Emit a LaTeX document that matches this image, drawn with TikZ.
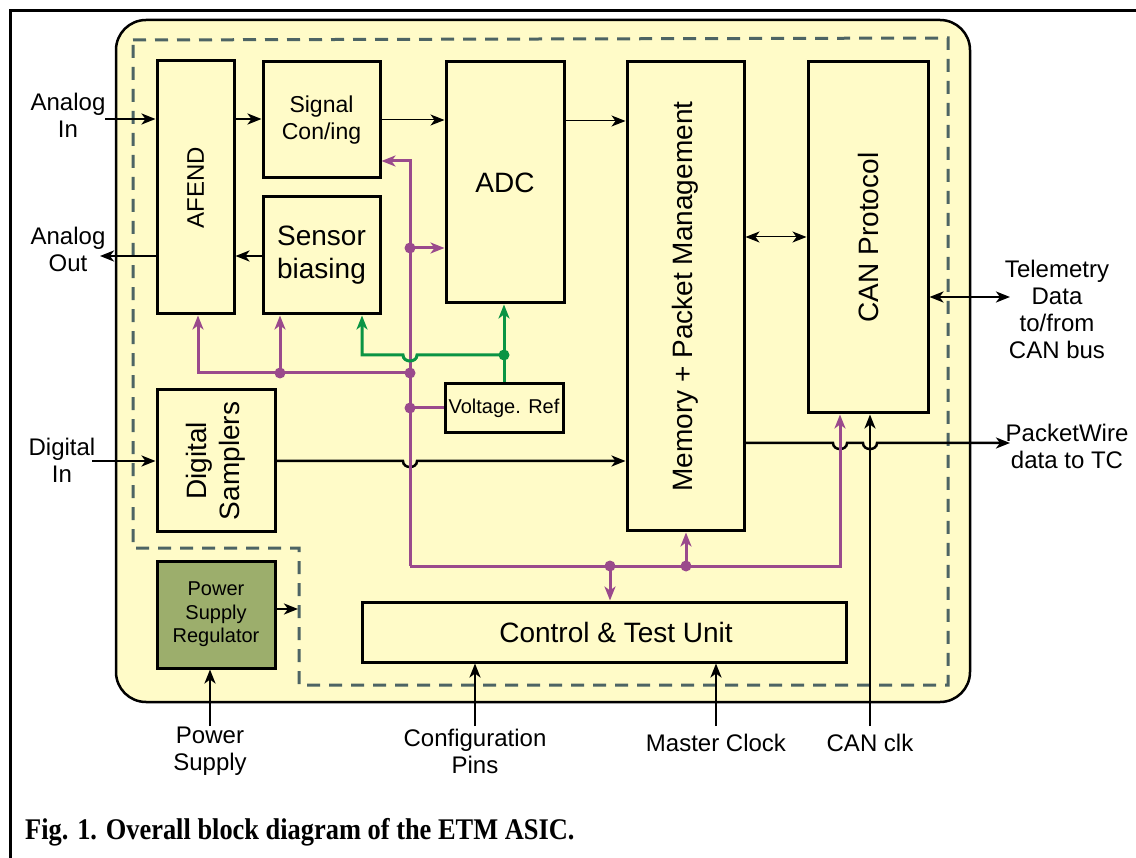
\documentclass[tikz,border=0pt]{standalone}
\usepackage{fontspec}
\usepackage{graphicx}
\setmainfont{Liberation Sans}
\newfontfamily\capfont{Liberation Serif}
\usetikzlibrary{arrows.meta}
\definecolor{yel}{RGB}{255,251,200}
\definecolor{dsh}{RGB}{77,100,100}
\definecolor{pur}{RGB}{154,74,140}
\definecolor{grn}{RGB}{10,148,68}
\definecolor{olv}{RGB}{156,174,108}
\newcommand{\fsz}[2]{\fontsize{#1}{#2}\selectfont}
\tikzset{
  blk/.style={draw, line width=3pt, fill=yel, inner sep=0pt, align=center},
  tip/.style={-{Stealth[length=14pt,width=11pt,inset=4pt]}},
  arr/.style={line width=2.5pt, tip},
  darr/.style={line width=2.5pt, {Stealth[length=14pt,width=11pt,inset=4pt]}-{Stealth[length=14pt,width=11pt,inset=4pt]}},
  tarr/.style={line width=1pt, tip},
  tdarr/.style={line width=1pt, {Stealth[length=14pt,width=11pt,inset=4pt]}-{Stealth[length=14pt,width=11pt,inset=4pt]}},
  pline/.style={draw=pur, line width=3pt},
  parr/.style={pline, tip, pur},
  gline/.style={draw=grn, line width=3pt},
  garr/.style={gline, tip, grn},
  pdot/.style={circle, fill=pur, inner sep=0pt, minimum size=11pt},
  gdot/.style={circle, fill=grn, inner sep=0pt, minimum size=11pt},
  lbl/.style={align=center, inner sep=0pt, font=\fsz{24}{27}},
}
\begin{document}
\begin{tikzpicture}[x=1pt,y=-1pt]
\useasboundingbox (0,0) rectangle (1136,858);
\clip (0,0) rectangle (1136,858);
\fill[white] (0,0) rectangle (1136,858);
% outer frame
\draw[line width=3pt] (10,11) rectangle (1160,880);
% chip body
\draw[fill=yel, line width=2.5pt, rounded corners=30pt] (116,20) rectangle (970,702);
% dashed digital/analog domain
\draw[dsh, line width=3pt, dash pattern=on 13pt off 9pt] (133,40) -- (948,38) -- (948,685) -- (299,685) -- (299,548) -- (133,548) -- cycle;

% blocks
\node[blk, font=\fsz{24}{27}, minimum width=77pt, minimum height=253pt] (afend) at (195.5,187.5) {\rotatebox{90}{AFEND}};
\node[blk, font=\fsz{23}{27}, minimum width=117pt, minimum height=116pt] (sig) at (321.5,120) {Signal\\Con/ing};
\node[blk, font=\fsz{28}{33}, minimum width=117pt, minimum height=117pt] (sens) at (321.5,255.5) {Sensor\\biasing};
\node[blk, font=\fsz{28}{33}, minimum width=118pt, minimum height=241pt] (adc) at (505,182.5) {ADC};
\node[blk, font=\fsz{28}{33}, minimum width=117pt, minimum height=469pt] (mem) at (685.5,296.5) {\rotatebox{90}{Memory + Packet Management}};
\node[blk, font=\fsz{28}{33}, minimum width=120pt, minimum height=351pt] (can) at (868,237.5) {\rotatebox{90}{CAN Protocol}};
\node[blk, font=\fsz{20}{24}, minimum width=118pt, minimum height=49pt] (vref) at (504,408.5) {Voltage. Ref};
\node[blk, font=\fsz{28}{33}, minimum width=118pt, minimum height=142pt] (dig) at (216,461) {\rotatebox{90}{\begin{tabular}{@{}c@{}}Digital\\Samplers\end{tabular}}};
\node[blk, font=\fsz{20}{23.5}, fill=olv, minimum width=118pt, minimum height=107pt] (psr) at (216,614.5) {Power\\Supply\\Regulator};
\node[blk, font=\fsz{28}{33}, minimum width=484pt, minimum height=60pt] (ctu) at (604,632) {\hspace*{24pt}Control \& Test Unit};

% external labels
\node[lbl] (ainl) at (68,115) {Analog\\In};
\node[lbl] (aoutl) at (68,249) {Analog\\Out};
\node[lbl] (dinl) at (62,460) {Digital\\In};
\node[lbl] (teml) at (1057,309) {Telemetry\\Data\\to/from\\CAN bus};
\node[lbl] (pwl) at (1067,446) {PacketWire\\data to TC};
\node[lbl] (psl) at (210,751) {Power\\Supply};
\node[lbl] (cfgl) at (475,751) {Configuration\\Pins};
\node[lbl] (mcl) at (716,743) {Master Clock};
\node[lbl] (canl) at (870,743) {CAN clk};
\node[anchor=base west, inner sep=0pt, font=\capfont\bfseries\fsz{30}{34}] (cap) at (25,839) {\scalebox{0.88}[1]{Fig. 1. Overall block diagram of the ETM ASIC.}};

% free ends
\coordinate (ain) at (105,119);
\coordinate (aout) at (100,256);
\coordinate (din) at (92,461);
\coordinate (tem) at (1010,297);
\coordinate (pw) at (1010,443);
\coordinate (ps) at (210,726);
\coordinate (cfg) at (475,726);
\coordinate (mc) at (716,726);
\coordinate (cc) at (870,726);
\coordinate (dd) at (298,609);

% black connectors
\draw[arr] (ain) -- (afend.west |- ain);
\draw[arr] (afend.east |- 0,119) -- (sig.west |- 0,119);
\draw[arr] (afend.west |- aout) -- (aout);
\draw[arr] (sens.west |- 0,256) -- (afend.east |- 0,256);
\draw[tarr] (sig.east |- 0,120) -- (adc.west |- 0,120);
\draw[tarr] (adc.east |- 0,121) -- (mem.west |- 0,121);
\draw[tdarr] (mem.east |- 0,237) -- (can.west |- 0,237);
\draw[darr] (can.east |- tem) -- (tem);
\draw[arr] (din) -- (dig.west |- din);
\draw[arr] (dig.east |- din) -- (403,461) .. controls (403,469) and (417,469) .. (417,461) -- (mem.west |- din);
\draw[arr] (mem.east |- pw) -- (833,443) .. controls (833,451) and (847,451) .. (847,443)
  -- (863,443) .. controls (863,451) and (877,451) .. (877,443) -- (pw);
\draw[arr] (psr.east |- dd) -- (dd);
\draw[arr] (ps) -- (psr.south -| ps);
\draw[arr] (cfg) -- (ctu.south -| cfg);
\draw[arr] (mc) -- (ctu.south -| mc);
\draw[arr] (cc) -- (can.south -| cc);

% purple control network
\draw[parr] (410,566) -- (410,161) -- (sig.east |- 0,161);
\draw[parr] (410,248) -- (adc.west |- 0,248);
\draw[parr] (410,373) -- (198,373) -- (afend.south -| 198,0);
\draw[parr] (280,373) -- (sens.south -| 280,0);
\draw[pline] (410,408) -- (vref.west |- 0,408);
\draw[parr] (410,566) -- (840,566) -- (can.south -| 840,0);
\draw[parr] (610,566) -- (ctu.north -| 610,0);
\draw[parr] (686,566) -- (mem.south -| 686,0);
\node[pdot] (p1) at (410,248) {};
\node[pdot] (p2) at (410,373) {};
\node[pdot] (p3) at (280,373) {};
\node[pdot] (p4) at (410,408) {};
\node[pdot] (p5) at (610,566) {};
\node[pdot] (p6) at (686,566) {};

% green reference network
\draw[garr] (vref.north -| 504,0) -- (adc.south -| 504,0);
\draw[garr] (504,355) -- (417,355) .. controls (417,363) and (403,363) .. (403,355) -- (362,355) -- (sens.south -| 362,0);
\node[gdot] (g1) at (504,355) {};
\end{tikzpicture}
\end{document}
